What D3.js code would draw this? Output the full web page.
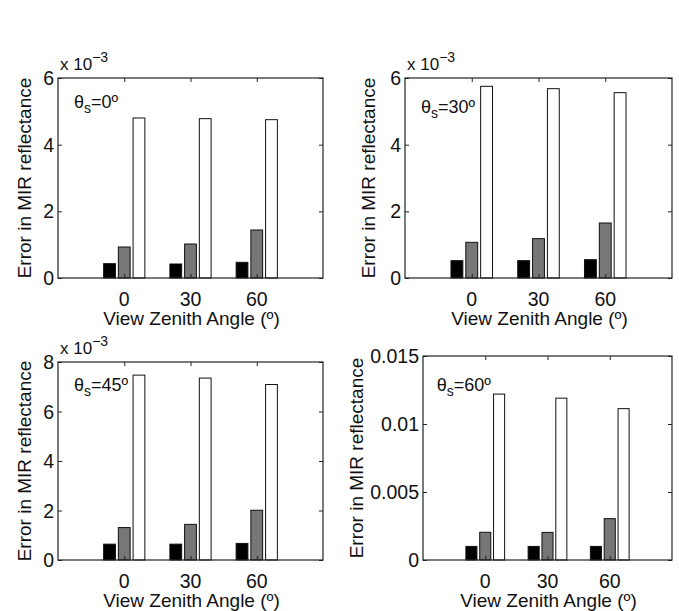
<!DOCTYPE html>
<html>
<head>
<meta charset="utf-8">
<script src="https://cdn.jsdelivr.net/npm/d3@7"></script>
<style>
  body { margin: 0; background: #fff; }
  svg { display: block; }
  text { font-family: "Liberation Sans", Arial, Helvetica, sans-serif; fill: #111; }
</style>
</head>
<body>
<div id="grafico"></div>
<script>
// view zenith angles (groups) and sun zenith angle per panel
const viewAngles = ["0", "30", "60"];
const sunAngles = ["0", "30", "45", "60"];

// values in units of 10^-3, one row per panel, one entry per view angle
const blackVals = [[0.43, 0.42, 0.47], [0.52, 0.52, 0.55], [0.64, 0.64, 0.67], [1.0, 1.0, 1.0]];
const grayVals  = [[0.93, 1.02, 1.44], [1.07, 1.18, 1.65], [1.31, 1.44, 2.01], [2.04, 2.03, 3.04]];
const whiteVals = [[4.80, 4.78, 4.75], [5.75, 5.68, 5.56], [7.47, 7.35, 7.09], [12.2, 11.9, 11.13]];

const yMax = [6, 6, 8, 15];
const yTickVals = [[0, 2, 4, 6], [0, 2, 4, 6], [0, 2, 4, 6, 8], [0, 5, 10, 15]];
const yTickLabels = [["0", "2", "4", "6"], ["0", "2", "4", "6"], ["0", "2", "4", "6", "8"], ["0", "0.005", "0.01", "0.015"]];
const showExponent = [true, true, true, false];
// annotation position in data units (x, y)
const notePos = [[0.24, 5.28], [0.24, 5.13], [0.24, 7.1], [0.22, 12.87]];

const seriesColors = ["#000000", "#777777", "#ffffff"];

// axes boxes (left, top, right, bottom) in px
const boxes = [
    [58, 78, 323, 278],
    [405, 78, 672, 278],
    [58, 362, 323, 560],
    [423, 356, 672, 560]
];
// baseline of the rotated y label
const yLabelX = [31, 375, 31, 363];

const W = 679, H = 611;
const svg = d3.select("#grafico").append("svg").attr("width", W).attr("height", H);

const groupWidth = 3 / 4.5;          // matlab grouped bar layout
const barStep = groupWidth / 3;
const barWidth = barStep * 0.8;
const tickLen = 4;

boxes.forEach((b, p) => {
    const [x0, y0, x1, y1] = b;
    const g = svg.append("g");

    const x = d3.scaleLinear().domain([0, 4]).range([x0, x1]);
    const y = d3.scaleLinear().domain([0, yMax[p]]).range([y1, y0]);

    const rows = viewAngles.map((a, i) => ({
        angle: a,
        idx: i + 1,
        vals: [blackVals[p][i], grayVals[p][i], whiteVals[p][i]]
    }));

    // bars
    rows.forEach(r => {
        g.selectAll(null)
            .data(r.vals)
            .enter()
            .append("rect")
            .attr("x", (d, j) => x(r.idx + (j - 1) * barStep - barWidth / 2))
            .attr("y", d => y(d))
            .attr("width", x(barWidth) - x(0))
            .attr("height", d => y(0) - y(d))
            .attr("fill", (d, j) => seriesColors[j])
            .attr("stroke", "#111")
            .attr("stroke-width", 1);
    });

    // y axes left and right, inward ticks
    g.append("g")
        .attr("transform", `translate(${x0},0)`)
        .call(d3.axisRight(y).tickValues(yTickVals[p]).tickSize(tickLen).tickFormat(""))
        .call(s => s.select(".domain").remove());
    g.append("g")
        .attr("transform", `translate(${x1},0)`)
        .call(d3.axisLeft(y).tickValues(yTickVals[p]).tickSize(tickLen).tickFormat(""))
        .call(s => s.select(".domain").remove());
    // x axes bottom and top, inward ticks
    const xt = viewAngles.map((a, i) => i + 1);
    g.append("g")
        .attr("transform", `translate(0,${y1})`)
        .call(d3.axisTop(x).tickValues(xt).tickSize(tickLen).tickFormat(""))
        .call(s => s.select(".domain").remove());
    g.append("g")
        .attr("transform", `translate(0,${y0})`)
        .call(d3.axisBottom(x).tickValues(xt).tickSize(tickLen).tickFormat(""))
        .call(s => s.select(".domain").remove());
    g.selectAll(".tick line").attr("stroke", "#222");

    // box
    g.append("rect")
        .attr("x", x0).attr("y", y0)
        .attr("width", x1 - x0).attr("height", y1 - y0)
        .attr("fill", "none").attr("stroke", "#222").attr("stroke-width", 1.2);

    // y tick labels
    g.selectAll(null)
        .data(yTickVals[p])
        .enter()
        .append("text")
        .attr("x", x0 - 4)
        .attr("y", d => y(d))
        .attr("dy", "0.36em")
        .attr("text-anchor", "end")
        .attr("font-size", "19.5px")
        .text((d, i) => yTickLabels[p][i]);

    // x tick labels
    g.selectAll(null)
        .data(rows)
        .enter()
        .append("text")
        .attr("x", d => x(d.idx))
        .attr("y", y1 + 28)
        .attr("text-anchor", "middle")
        .attr("font-size", "19.5px")
        .text(d => d.angle);

    // x label
    g.append("text")
        .attr("x", (x0 + x1) / 2 + 1)
        .attr("y", y1 + 47)
        .attr("text-anchor", "middle")
        .attr("font-size", "19px")
        .text("View Zenith Angle (º)");

    // y label
    g.append("text")
        .attr("transform", `translate(${yLabelX[p]},${(y0 + y1) / 2}) rotate(-90)`)
        .attr("text-anchor", "middle")
        .attr("font-size", "19px")
        .text("Error in MIR reflectance");

    // exponent
    if (showExponent[p]) {
        const t = g.append("text")
            .attr("x", x0 + 2)
            .attr("y", y0 - 8)
            .attr("font-size", "17px")
            .text("x 10");
        t.append("tspan")
            .attr("dy", -8)
            .attr("font-size", "14px")
            .text("−3");
    }

    // sun angle annotation
    const n = g.append("text")
        .attr("x", x(notePos[p][0]))
        .attr("y", y(notePos[p][1]))
        .attr("dy", "0.36em")
        .attr("font-size", "18px")
        .text("θ");
    n.append("tspan").attr("dy", 5).attr("font-size", "14px").text("s");
    n.append("tspan").attr("dy", -5).text("=" + sunAngles[p] + "º");
});
</script>
</body>
</html>
